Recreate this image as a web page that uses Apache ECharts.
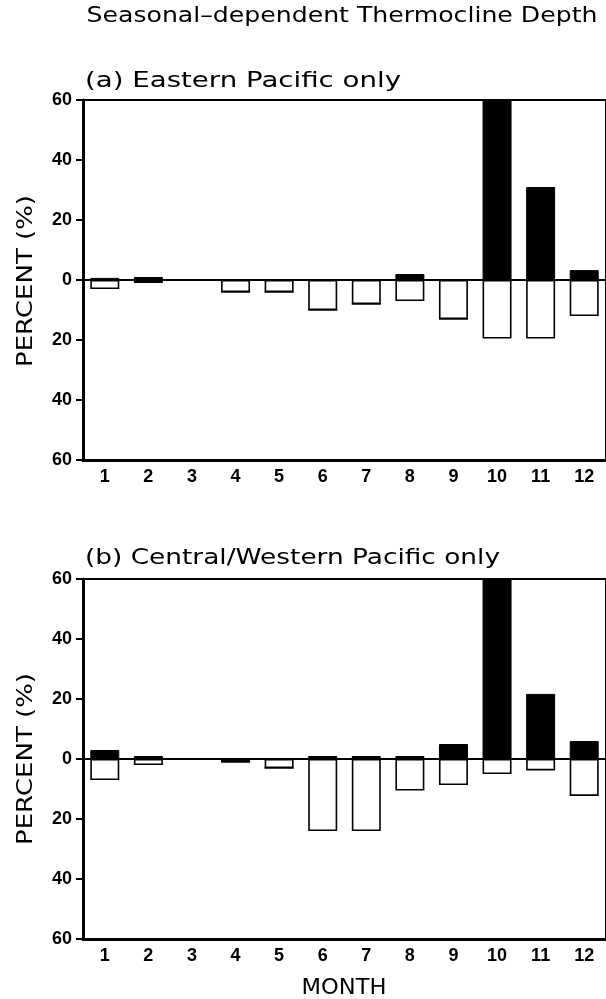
<!DOCTYPE html>
<html>
<head>
<meta charset="utf-8">
<script src="https://cdn.jsdelivr.net/npm/echarts@6/dist/echarts.min.js"></script>
<style>
  html, body { margin: 0; padding: 0; background: #fff; }
  #chart { width: 606px; height: 999px; }
</style>
</head>
<body>
<div id="chart"></div>
<script>
// Months on the category axis
var months = ['1', '2', '3', '4', '5', '6', '7', '8', '9', '10', '11', '12'];

// (a) Eastern Pacific only: filled bars above zero, open bars below zero
var eastFilled = [0.7, 1, 0, 0, 0, 0, 0, 2, 0, 60, 31, 3.3];
var eastOpen = [-3, -1, 0, -4, -4, -10, -8, -7, -13, -19.5, -19.5, -12];

// (b) Central/Western Pacific only
var centralFilled = [3, 1, 0, 0, 0, 1, 1, 1, 5, 60, 21.7, 6];
var centralOpen = [-7, -2, 0, -1, -3, -24, -24, -10.5, -8.7, -5, -3.8, -12.3];

var titleText = 'Seasonal\u2013dependent Thermocline Depth';
var panelTitles = ['(a) Eastern Pacific only', '(b) Central/Western Pacific only'];
var yName = 'PERCENT (%)';
var xName = 'MONTH';

var textFamily = '"DejaVu Sans", "Liberation Sans", sans-serif';
var numFamily = '"Liberation Sans", Arial, sans-serif';
var textSize = 21;

var grids = [
  { left: 83, top: 100, width: 523, height: 360 },
  { left: 83, top: 579, width: 523, height: 360 }
];

// Horizontal stretch needed so a label spans a given width
var measureCtx = document.createElement('canvas').getContext('2d');
function stretchFor(text, width) {
  measureCtx.font = textSize + 'px ' + textFamily;
  return width / measureCtx.measureText(text).width;
}

function label(text, x, y, width, align, rotation) {
  return {
    type: 'text', x: x, y: y, rotation: rotation || 0,
    scaleX: stretchFor(text, width),
    silent: true,
    style: {
      text: text, font: textSize + 'px ' + textFamily, fill: '#000',
      textAlign: align, textVerticalAlign: 'middle'
    }
  };
}

function xAxisFor(i) {
  return {
    type: 'category',
    gridIndex: i,
    data: months,
    position: 'bottom',
    axisLine: { onZero: false, lineStyle: { color: '#000', width: 3 } },
    axisTick: { alignWithLabel: true, length: 7, lineStyle: { color: '#000', width: 2 } },
    axisLabel: { color: '#000', fontFamily: numFamily, fontWeight: 'bold', fontSize: 18, margin: 8 }
  };
}

function yAxisFor(i) {
  return {
    type: 'value',
    gridIndex: i,
    min: -60,
    max: 60,
    interval: 20,
    axisLine: { show: true, lineStyle: { color: '#000', width: 3 } },
    axisTick: { show: true, length: 7, lineStyle: { color: '#000', width: 2 } },
    splitLine: { show: false },
    axisLabel: {
      color: '#000', fontFamily: numFamily, fontWeight: 'bold', fontSize: 18, margin: 11,
      formatter: function (v) { return String(Math.abs(v)); }
    }
  };
}

function filledSeries(i, data) {
  return {
    type: 'bar', xAxisIndex: i, yAxisIndex: i, stack: 'p' + i,
    data: data, barWidth: 29,
    itemStyle: { color: '#000', borderColor: '#000', borderWidth: 1 },
    silent: true, animation: false
  };
}

function openSeries(i, data) {
  return {
    type: 'bar', xAxisIndex: i, yAxisIndex: i, stack: 'p' + i,
    data: data, barWidth: 29,
    itemStyle: { color: '#fff', borderColor: '#000', borderWidth: 1.6 },
    silent: true, animation: false,
    markLine: {
      silent: true, symbol: 'none', animation: false,
      label: { show: false },
      lineStyle: { color: '#000', width: 2, type: 'solid' },
      data: [{ yAxis: 0 }]
    }
  };
}

var chart = echarts.init(document.getElementById('chart'), null, { renderer: 'canvas' });

chart.setOption({
  animation: false,
  backgroundColor: '#fff',
  grid: grids.map(function (g) {
    return Object.assign({ show: true, borderColor: '#000', borderWidth: 2, backgroundColor: 'transparent' }, g);
  }),
  xAxis: [xAxisFor(0), xAxisFor(1)],
  yAxis: [yAxisFor(0), yAxisFor(1)],
  series: [
    openSeries(0, eastOpen),
    filledSeries(0, eastFilled),
    openSeries(1, centralOpen),
    filledSeries(1, centralFilled)
  ],
  graphic: [
    label(titleText, 86.5, 17, 511, 'left'),
    label(panelTitles[0], 85, 81.5, 316, 'left'),
    label(panelTitles[1], 85, 558.5, 415, 'left'),
    label(yName, 26.4, 281, 172, 'center', Math.PI / 2),
    label(yName, 26.4, 759, 172, 'center', Math.PI / 2),
    label(xName, 344, 988.5, 85, 'center')
  ]
});
</script>
</body>
</html>
